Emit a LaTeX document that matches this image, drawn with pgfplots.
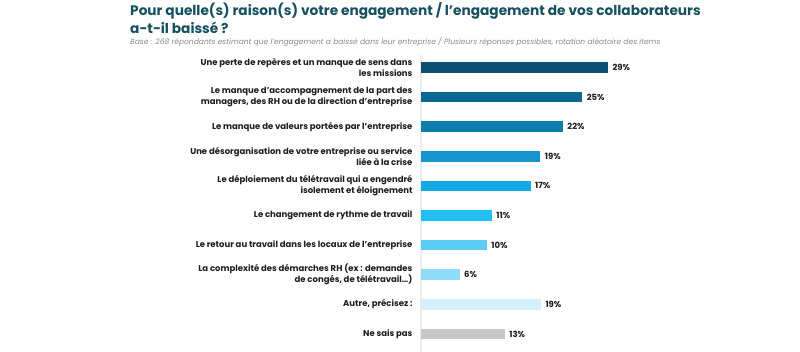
\documentclass[border=0pt]{standalone}
\usepackage{pgfplots}
\pgfplotsset{compat=1.18}
\usepackage{fontspec}
\setmainfont{Poppins}
\definecolor{titlecol}{HTML}{17505F}
\definecolor{subcol}{HTML}{8A8A8A}
\definecolor{labcol}{HTML}{1E1E1E}
\definecolor{c1}{HTML}{0B4F74}
\definecolor{c2}{HTML}{0C6792}
\definecolor{c3}{HTML}{0D7DAE}
\definecolor{c4}{HTML}{1694CF}
\definecolor{c5}{HTML}{14A9E6}
\definecolor{c6}{HTML}{22C0F2}
\definecolor{c7}{HTML}{5BCDF5}
\definecolor{c8}{HTML}{8DDCF9}
\definecolor{c9}{HTML}{D2EFFB}
\definecolor{c10}{HTML}{C8C8C8}
\begin{document}
\begin{tikzpicture}[x=1pt,y=1pt]
\path[use as bounding box, fill=white] (0,0) rectangle (800,352);
\node[anchor=base west, inner sep=0, text=titlecol, font=\fontsize{13.7}{16}\selectfont\bfseries] at (130,336) {Pour quelle(s) raison(s) votre engagement / l'engagement de vos collaborateurs};
\node[anchor=base west, inner sep=0, text=titlecol, font=\fontsize{13.7}{16}\selectfont\bfseries] at (130,318) {a-t-il baissé ?};
\node[anchor=base west, inner sep=0, text=subcol, font=\fontsize{7.55}{8}\selectfont\itshape] at (130,307) {Base : 268 répondants estimant que l'engagement a baissé dans leur entreprise / Plusieurs réponses possibles, rotation aléatoire des items};
\begin{axis}[
  at={(421pt,296.9pt)}, anchor=north west,
  scale only axis, width=193.5pt, height=296.6pt,
  xmin=0, xmax=30, ymin=-0.42, ymax=9.6,
  y dir=reverse,
  axis x line=none, axis y line*=left,
  y axis line style={draw=gray!15, line width=1.6pt, -},
  ytick={0,1,2,3,4,5,6,7,8,9}, major tick length=0pt,
  yticklabels={
    {Une perte de repères et un manque de sens dans\\les missions},
    {Le manque d'accompagnement de la part des\\managers, des RH ou de la direction d'entreprise},
    {Le manque de valeurs portées par l'entreprise},
    {Une désorganisation de votre entreprise ou service\\liée à la crise},
    {Le déploiement du télétravail qui a engendré\\isolement et éloignement},
    {Le changement de rythme de travail},
    {Le retour au travail dans les locaux de l'entreprise},
    {La complexité des démarches RH (ex : demandes\\de congés, de télétravail\ldots)},
    {Autre, précisez :},
    {Ne sais pas}},
  yticklabel style={font=\fontsize{8.5}{11}\selectfont\bfseries, text=labcol, align=right, xshift=-5pt},
  clip=false,
  xbar, bar width=10.5pt, bar shift=0pt,
  point meta=explicit,
  nodes near coords={\pgfmathprintnumber{\pgfplotspointmeta}\%},
  every node near coord/.append style={font=\fontsize{8.5}{10}\selectfont\bfseries, text=labcol, anchor=west, xshift=1pt},
  /pgf/number format/assume math mode=true,
]
\addplot[fill=c1, draw=none] coordinates {(29,0) [29]};
\addplot[fill=c2, draw=none] coordinates {(25,1) [25]};
\addplot[fill=c3, draw=none] coordinates {(22,2) [22]};
\addplot[fill=c4, draw=none] coordinates {(18.5,3) [19]};
\addplot[fill=c5, draw=none] coordinates {(17,4) [17]};
\addplot[fill=c6, draw=none] coordinates {(11,5) [11]};
\addplot[fill=c7, draw=none] coordinates {(10.2,6) [10]};
\addplot[fill=c8, draw=none] coordinates {(6,7) [6]};
\addplot[fill=c9, draw=none] coordinates {(18.6,8) [19]};
\addplot[fill=c10, draw=none] coordinates {(13,9) [13]};
\end{axis}
\end{tikzpicture}
\end{document}
